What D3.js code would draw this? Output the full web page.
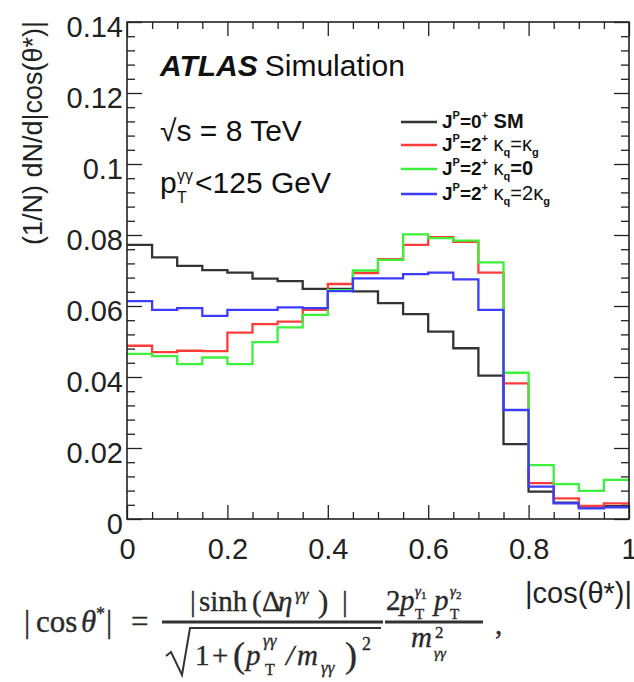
<!DOCTYPE html>
<html>
<head>
<meta charset="utf-8">
<script src="https://cdn.jsdelivr.net/npm/d3@7"></script>
<style>
  html, body { margin: 0; padding: 0; background: #fff; }
  svg { display: block; }
</style>
</head>
<body>
<svg id="chart" width="634" height="682"></svg>
<script>
// ---------------- data ----------------
const binEdges = [0,0.05,0.1,0.15,0.2,0.25,0.3,0.35,0.4,0.45,0.5,0.55,0.6,0.65,0.7,0.75,0.8,0.85,0.9,0.95,1.0];
const smValues    = [0.0772,0.0737,0.0713,0.0701,0.0694,0.0677,0.0670,0.0648,0.0648,0.0641,0.0608,0.0577,0.0528,0.0481,0.0404,0.0211,0.0077,0.0046,0.0035,0.0036];
const kqEqKgValues = [0.0488,0.0470,0.0474,0.0473,0.0525,0.0549,0.0556,0.0589,0.0662,0.0693,0.0732,0.0772,0.0794,0.0781,0.0694,0.0382,0.0101,0.0058,0.0037,0.0044];
const kqZeroValues = [0.0465,0.0459,0.0436,0.0455,0.0436,0.0498,0.0540,0.0575,0.0645,0.0700,0.0730,0.0802,0.0791,0.0784,0.0723,0.0412,0.0152,0.0098,0.0079,0.0110];
const kq2KgValues  = [0.0614,0.0589,0.0594,0.0572,0.0589,0.0589,0.0596,0.0594,0.0642,0.0678,0.0678,0.0690,0.0694,0.0675,0.0589,0.0307,0.0091,0.0044,0.0030,0.0033];
const xMajorTicks = [0,0.2,0.4,0.6,0.8,1];
const xTickLabels = ["0","0.2","0.4","0.6","0.8","1"];
const yMajorTicks = [0,0.02,0.04,0.06,0.08,0.1,0.12,0.14];
const yTickLabels = ["0","0.02","0.04","0.06","0.08","0.1","0.12","0.14"];

const seriesList = [
  {key:"sm",  values: smValues,     color:"#333333"},
  {key:"eq",  values: kqEqKgValues, color:"#ff3c3c"},
  {key:"zero",values: kqZeroValues, color:"#3cf03c"},
  {key:"two", values: kq2KgValues,  color:"#3c3cff"}
];

// ---------------- layout ----------------
const svg = d3.select("#chart");
const L = 127, R = 629, T = 22, B = 519;
const x = d3.scaleLinear().domain([0,1]).range([L,R]);
const y = d3.scaleLinear().domain([0,0.14]).range([B,T]);
const axisColor = "#222";
const sans = "Liberation Sans, Arial, Helvetica, sans-serif";
const serif = "Liberation Serif, Times New Roman, serif";

const xMinor = d3.range(0, 1.0001, 0.05).filter(v => Math.abs(v*5 - Math.round(v*5)) > 1e-6);
const yMinor = d3.range(0, 0.14001, 0.004).filter(v => Math.abs(v/0.02 - Math.round(v/0.02)) > 1e-6);

function styleAxis(g) {
  g.select(".domain").remove();
  g.selectAll("line").attr("stroke", axisColor).attr("stroke-width", 1.3);
  g.selectAll("text").attr("fill", "#222").attr("font-family", sans).attr("font-size", 29);
}

svg.append("g").attr("transform", `translate(0,${B})`)
  .call(d3.axisBottom(x).tickValues(xMajorTicks).tickSize(-14).tickPadding(19)
        .tickFormat((d,i) => xTickLabels[i]))
  .call(styleAxis);
svg.append("g").attr("transform", `translate(0,${B})`)
  .call(d3.axisBottom(x).tickValues(xMinor).tickSize(-7).tickFormat(""))
  .call(styleAxis);
svg.append("g").attr("transform", `translate(0,${T})`)
  .call(d3.axisTop(x).tickValues(xMajorTicks).tickSize(-14).tickFormat(""))
  .call(styleAxis);
svg.append("g").attr("transform", `translate(0,${T})`)
  .call(d3.axisTop(x).tickValues(xMinor).tickSize(-7).tickFormat(""))
  .call(styleAxis);
svg.append("g").attr("transform", `translate(${L},0)`)
  .call(d3.axisLeft(y).tickValues(yMajorTicks).tickSize(-15).tickPadding(4)
        .tickFormat((d,i) => yTickLabels[i]))
  .call(styleAxis)
  .call(g => g.selectAll("text").attr("dy", "0.5em"));
svg.append("g").attr("transform", `translate(${L},0)`)
  .call(d3.axisLeft(y).tickValues(yMinor).tickSize(-8).tickFormat(""))
  .call(styleAxis);
svg.append("g").attr("transform", `translate(${R},0)`)
  .call(d3.axisRight(y).tickValues(yMajorTicks).tickSize(-15).tickFormat(""))
  .call(styleAxis);
svg.append("g").attr("transform", `translate(${R},0)`)
  .call(d3.axisRight(y).tickValues(yMinor).tickSize(-8).tickFormat(""))
  .call(styleAxis);

// histograms
const line = d3.line().x(d => x(d[0])).y(d => y(d[1]));
seriesList.forEach(s => {
  const pts = [];
  s.values.forEach((v,i) => { pts.push([binEdges[i], v]); pts.push([binEdges[i+1], v]); });
  svg.append("path").attr("d", line(pts)).attr("fill","none")
     .attr("stroke", s.color).attr("stroke-width", 2.3).attr("stroke-linejoin","miter");
});

svg.append("rect").attr("x", L).attr("y", T).attr("width", R-L).attr("height", B-T)
  .attr("fill","none").attr("stroke", axisColor).attr("stroke-width", 1.6);

// axis titles
svg.append("text").attr("transform", "translate(42,133) rotate(-90)")
  .attr("text-anchor","middle").attr("font-family", sans).attr("font-size", 27).attr("fill","#222")
  .text("(1/N) dN/d|cos(θ*)|");
svg.append("text").attr("x", 632).attr("y", 603).attr("text-anchor","end")
  .attr("font-family", sans).attr("font-size", 29).attr("fill","#222")
  .text("|cos(θ*)|");

// ATLAS labels
const atl = svg.append("text").attr("x", 160).attr("y", 76).attr("font-family", sans).attr("font-size", 30).attr("fill","#111");
atl.append("tspan").attr("font-weight","bold").attr("font-style","italic").text("ATLAS");
atl.append("tspan").attr("dx", 7).text("Simulation");

svg.append("text").attr("x", 160).attr("y", 141).attr("font-family", sans).attr("font-size", 30).attr("fill","#111")
  .text("√s = 8 TeV");
svg.append("text").attr("x", 160).attr("y", 193).attr("font-family", sans).attr("font-size", 30).attr("fill","#111").text("p");
svg.append("text").attr("x", 177).attr("y", 181).attr("font-family", sans).attr("font-size", 16).attr("fill","#111").text("γγ");
svg.append("text").attr("x", 177).attr("y", 203).attr("font-family", sans).attr("font-size", 16).attr("fill","#111").text("T");
svg.append("text").attr("x", 195).attr("y", 193).attr("font-family", sans).attr("font-size", 30).attr("fill","#111").text("<125 GeV");

// legend
const legendRows = [
  {color:"#333333", spin:"0", tail:[{t:" SM"}]},
  {color:"#ff3c3c", spin:"2", tail:[{t:"  κ",w:"normal"},{t:"q",sub:true},{t:"=κ",w:"normal"},{t:"g",sub:true}]},
  {color:"#3cf03c", spin:"2", tail:[{t:"  κ",w:"normal"},{t:"q",sub:true},{t:"=0"}]},
  {color:"#3c3cff", spin:"2", tail:[{t:"  κ",w:"normal"},{t:"q",sub:true},{t:"=2κ",w:"normal"},{t:"g",sub:true}]}
];
const legendY = [122, 145, 169, 194];
legendRows.forEach((r,i) => {
  const yy = legendY[i];
  svg.append("line").attr("x1",401).attr("x2",437).attr("y1",yy).attr("y2",yy)
    .attr("stroke", r.color).attr("stroke-width", 2.3);
  const t = svg.append("text").attr("x", 442).attr("y", yy+6).attr("font-family", sans)
    .attr("font-size", 19).attr("font-weight","bold").attr("fill","#111");
  t.append("tspan").text("J");
  t.append("tspan").attr("font-size", 11).attr("dy", -9).text("P");
  t.append("tspan").attr("dy", 9).text("=" + r.spin);
  t.append("tspan").attr("font-size", 11).attr("dy", -9).text("+");
  let shifted = 9;
  r.tail.forEach(p => {
    if (p.sub) {
      t.append("tspan").attr("font-size", 11).attr("dy", 5 - shifted).text(p.t);
      shifted = -5;
    } else {
      const sp = t.append("tspan").attr("dy", shifted).attr("font-size", 20).text(p.t);
      if (p.w) sp.attr("font-weight", p.w);
      shifted = 0;
    }
  });
});

// formula (each glyph group placed as its own text)
const f = svg.append("g").attr("font-family", serif).attr("fill","#2a2a2a")
  .attr("stroke","#2a2a2a").attr("stroke-width", 0.35);
function ft(xp, yp, size, txt, italic) {
  const e = f.append("text").attr("x", xp).attr("y", yp).attr("font-size", size).text(txt);
  if (italic) e.attr("font-style","italic");
  return e;
}
// left-hand side
ft(24, 632, 31, "|");
ft(36, 632, 31, "cos");
ft(81, 632, 31, "θ", true);
ft(96, 620, 18, "*");
ft(106, 632, 31, "|");
ft(131, 632, 31, "=");
// numerator 1
ft(190, 611, 29, "|");
ft(199, 611, 29, "sinh");
ft(252, 611, 29, "(");
ft(262, 611, 29, "Δ");
ft(278, 611, 29, "η", true);
ft(295, 600, 17, "γγ", true);
ft(318, 612, 31, ")");
ft(342, 611, 29, "|");
f.append("line").attr("x1",162).attr("x2",383).attr("y1",622).attr("y2",622).attr("stroke","#333").attr("stroke-width",3);
// denominator 1
f.append("path").attr("d","M166,656 L171,652 L182,675 L190,628 L381,628")
  .attr("fill","none").attr("stroke","#333").attr("stroke-width",2);
ft(195, 665, 29, "1");
ft(212, 665, 29, "+");
ft(233, 667, 36, "(");
ft(246, 665, 29, "p", true);
ft(263, 646, 17, "γγ", true);
ft(265, 675, 16, "T");
ft(286, 665, 29, "/", true);
ft(297, 665, 29, "m", true);
ft(321, 673, 17, "γγ", true);
ft(345, 667, 36, ")");
ft(362, 650, 18, "2");
// fraction 2
ft(386, 610, 29, "2");
ft(400, 610, 29, "p", true);
const s1 = ft(415, 596, 15, "γ", true); s1.append("tspan").attr("font-size", 11).attr("font-style","normal").attr("dy", 3).text("1");
ft(415, 619, 15, "T");
ft(434, 610, 29, "p", true);
const s2 = ft(450, 596, 15, "γ", true); s2.append("tspan").attr("font-size", 11).attr("font-style","normal").attr("dy", 3).text("2");
ft(450, 619, 15, "T");
f.append("line").attr("x1",385).attr("x2",483).attr("y1",622).attr("y2",622).attr("stroke","#333").attr("stroke-width",3);
ft(411, 647, 29, "m", true);
ft(435, 638, 17, "2");
ft(434, 658, 15, "γγ", true);
ft(495, 634, 29, ",");
</script>
</body>
</html>
